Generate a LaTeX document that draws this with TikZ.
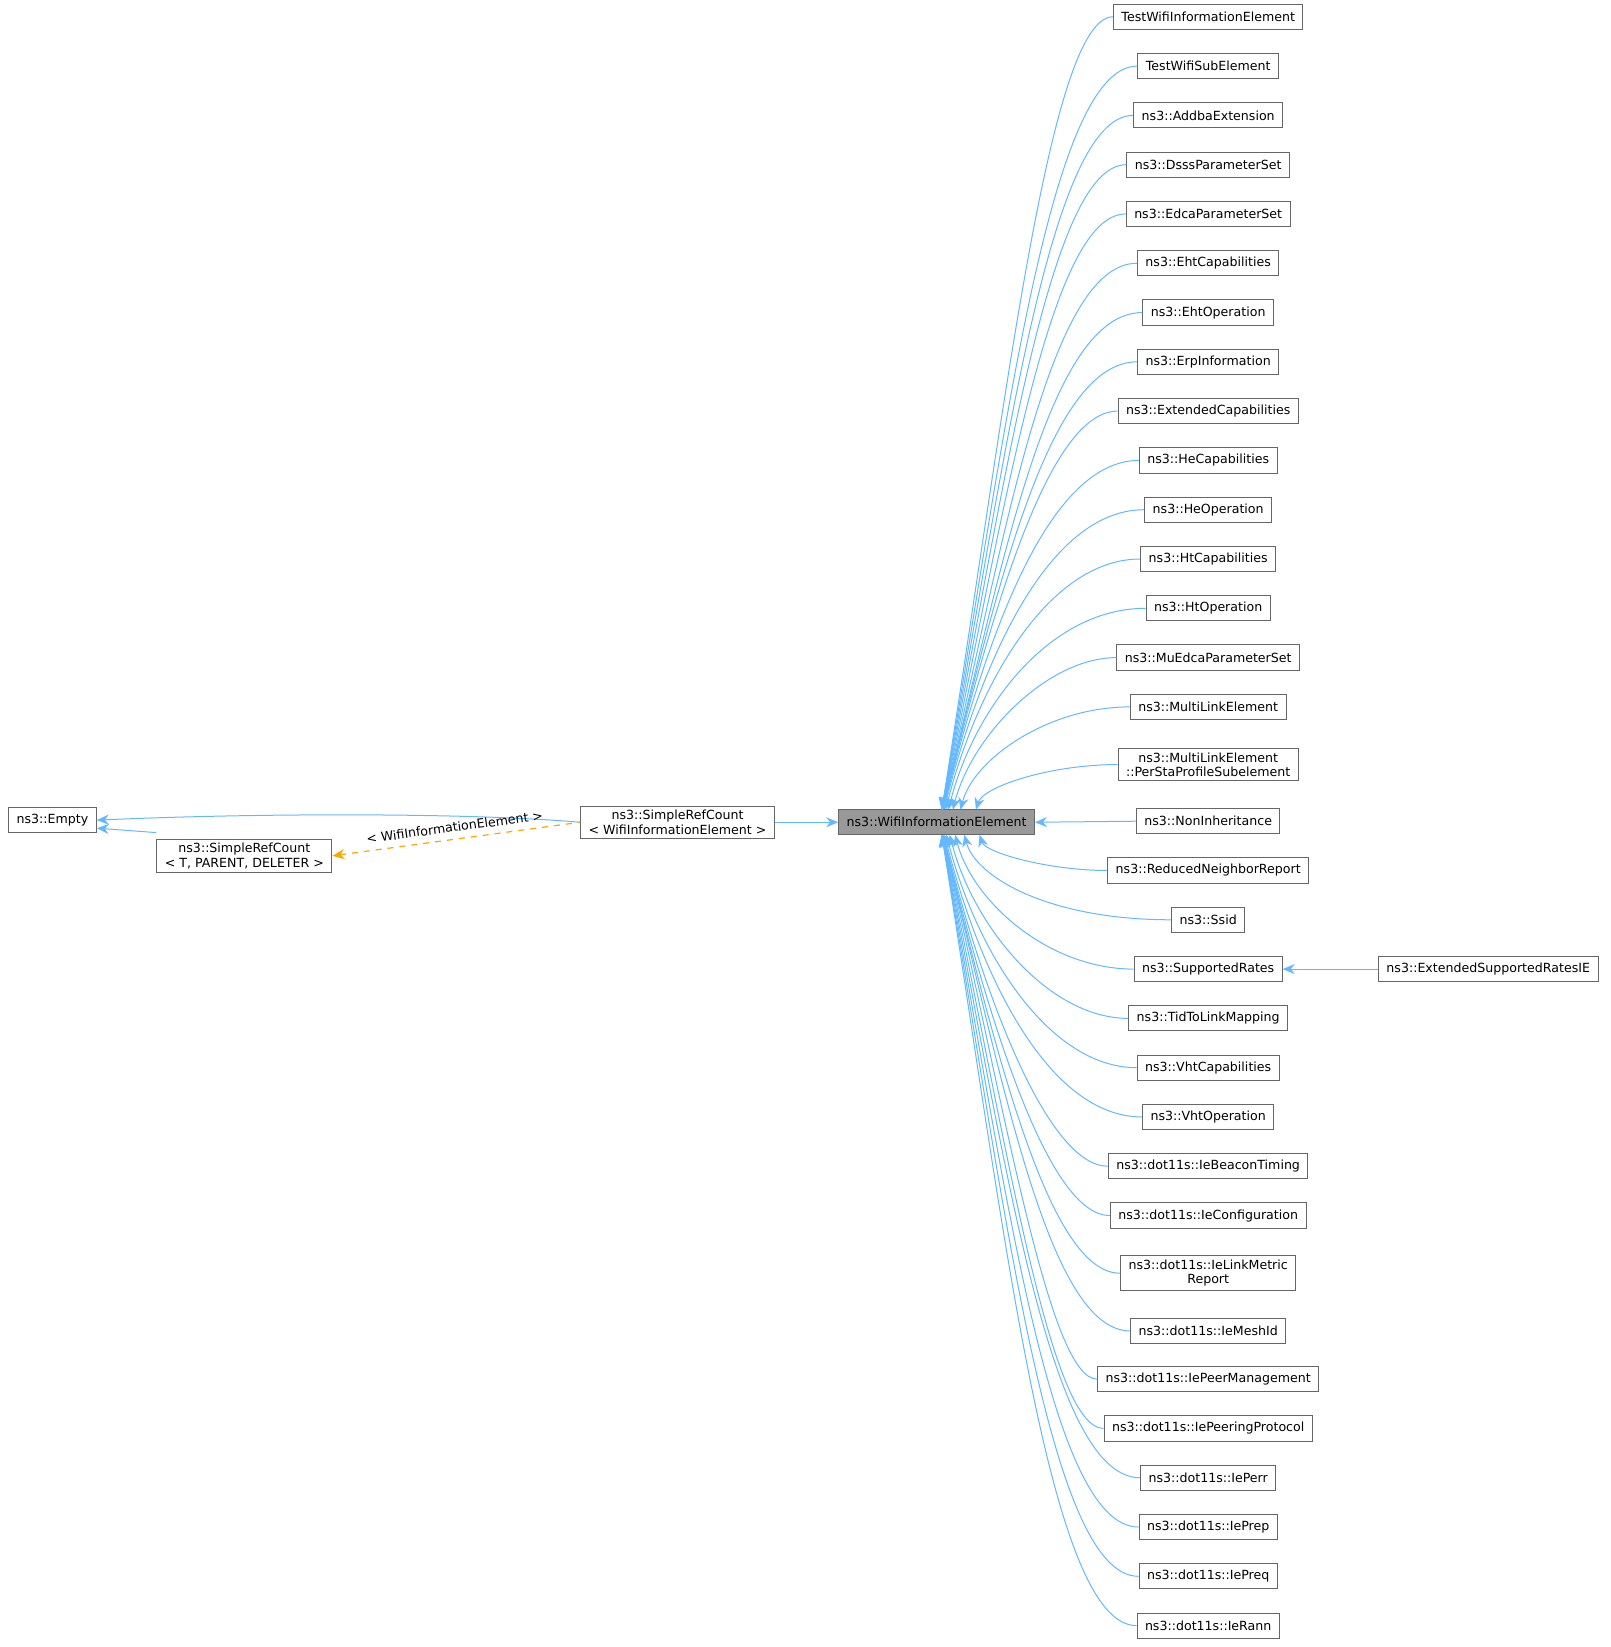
\documentclass[tikz,border=0pt]{standalone}
\usepackage{fontspec}
\setmainfont{DejaVu Sans}
\usetikzlibrary{arrows.meta}
\definecolor{eb}{HTML}{63B8FF}
\definecolor{bd}{HTML}{666666}
\definecolor{og}{HTML}{FFA500}
\begin{document}
\begin{tikzpicture}[x=0.5245pt,y=-0.5245pt,
 box/.style={draw=bd,fill=white,font=\fontsize{6.3}{7.2}\selectfont,inner xsep=4pt,inner ysep=2pt,minimum height=12.6pt,align=center,line width=0.5pt},
 edge/.style={draw=eb,line width=0.5pt,{Stealth[length=6pt,width=5pt]}-},
 dedge/.style={draw=og,line width=0.6pt,dashed,{Stealth[length=6pt,width=5pt]}-}]
\useasboundingbox (0,0) rectangle (1536,1570.4);
\node[box,fill=gray!80] (w) at (893,784) {ns3::WifiInformationElement};
\node[box] (s) at (646,784) {ns3::SimpleRefCount\\< WifiInformationElement >};
\node[box] (e) at (50,782) {ns3::Empty};
\node[box] (t) at (233,816) {ns3::SimpleRefCount\\< T, PARENT, DELETER >};
\draw[edge] (e.east) .. controls (250,775) and (450,775) .. (s.west);
\draw[edge] ([yshift=-4pt]e.east) -- ([yshift=3pt]t.north west);
\draw[dedge] (t.east) -- node[above,font=\fontsize{6.3}{7.2}\selectfont,pos=0.5,sloped]{< WifiInformationElement >} (s.west);
\draw[edge] (w.west) -- (s.east);
\foreach \y/\t [count=\i] in {
16/TestWifiInformationElement,63/TestWifiSubElement,110/ns3::AddbaExtension,157/ns3::DsssParameterSet,
204/ns3::EdcaParameterSet,251/ns3::EhtCapabilities,298/ns3::EhtOperation,345/ns3::ErpInformation,
392/ns3::ExtendedCapabilities,439/ns3::HeCapabilities,486/ns3::HeOperation,533/ns3::HtCapabilities,
580/ns3::HtOperation,627/ns3::MuEdcaParameterSet,674/ns3::MultiLinkElement,
729/{ns3::MultiLinkElement\\::PerStaProfileSubelement},783/ns3::NonInheritance,830/ns3::ReducedNeighborReport,
877/ns3::Ssid,924/ns3::SupportedRates,971/ns3::TidToLinkMapping,1018/ns3::VhtCapabilities,
1065/ns3::VhtOperation,1112/ns3::dot11s::IeBeaconTiming,1159/ns3::dot11s::IeConfiguration,
1214/{ns3::dot11s::IeLinkMetric\\Report},1269/ns3::dot11s::IeMeshId,1315/ns3::dot11s::IePeerManagement,
1362/ns3::dot11s::IePeeringProtocol,1409/ns3::dot11s::IePerr,1456/ns3::dot11s::IePrep,
1503/ns3::dot11s::IePreq,1550/ns3::dot11s::IeRann}{
 \node[box] (c\i) at (1152,\y) {\t};
 \ifnum\i=17
  \draw[edge] (w.east) -- (c\i.west);
 \else
  \pgfmathsetmacro\dy{\y-784}
  \pgfmathsetmacro\ady{abs(\dy)}
  \pgfmathsetmacro\tx{898+60*exp(-\ady/90)}
  \pgfmathsetmacro\ty{\dy<0 ? 772 : 796}
  \pgfmathsetmacro\cy{(\y+\ty)/2}
  \pgfmathsetmacro\cx{\tx+min(60,\ady*0.12)}
  \draw[edge] (\tx,\ty) .. controls (\cx,\cy) and (1000,\y) .. (c\i.west);
 \fi
}
\node[box] (x) at (1419,924) {ns3::ExtendedSupportedRatesIE};
\draw[edge] (c20.east) -- (x.west);
\end{tikzpicture}
\end{document}
